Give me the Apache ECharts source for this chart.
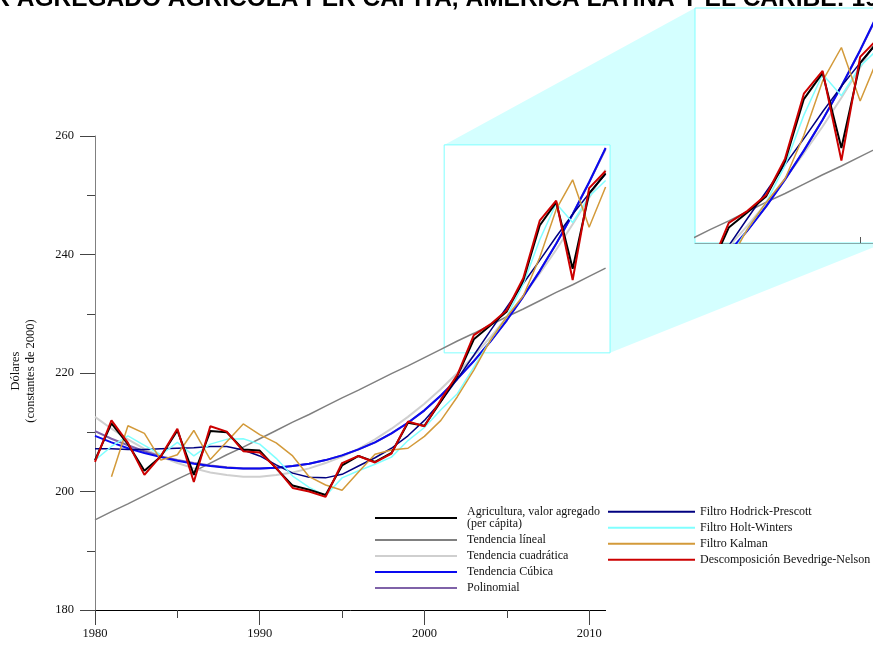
<!DOCTYPE html>
<html>
<head>
<meta charset="utf-8">
<script src="https://cdn.jsdelivr.net/npm/echarts@6/dist/echarts.min.js"></script>
<style>
  html, body { margin: 0; padding: 0; background: #fff; }
  #chart { width: 873px; height: 648px; }
</style>
</head>
<body>
<div id="chart"></div>
<script>
// ---- data -------------------------------------------------------------
const years = [1980, 1981, 1982, 1983, 1984, 1985, 1986, 1987, 1988, 1989,
               1990, 1991, 1992, 1993, 1994, 1995, 1996, 1997, 1998, 1999,
               2000, 2001, 2002, 2003, 2004, 2005, 2006, 2007, 2008, 2009,
               2010, 2011];

const agricultura = [205.3, 211.5, 208.0, 203.5, 205.9, 210.3, 202.8, 210.2, 210.0, 207.1,
                     206.9, 203.9, 201.0, 200.3, 199.4, 204.4, 206.0, 205.0, 206.5, 211.6,
                     211.1, 215.2, 219.5, 225.7, 228.0, 230.4, 235.6, 244.9, 248.8, 237.6,
                     250.3, 253.7];

const tendenciaLineal = [195.2, 196.6, 197.9, 199.3, 200.7, 202.1, 203.4, 204.8, 206.2, 207.5,
                         208.9, 210.3, 211.7, 213.0, 214.4, 215.8, 217.1, 218.5, 219.9, 221.2,
                         222.6, 224.0, 225.4, 226.7, 228.1, 229.5, 230.8, 232.2, 233.6, 234.9,
                         236.3, 237.7];

const tendenciaCuadratica = [212.6, 210.6, 208.8, 207.2, 205.9, 204.8, 203.9, 203.2, 202.8, 202.5,
                             202.5, 202.8, 203.2, 203.9, 204.8, 205.9, 207.2, 208.8, 210.6, 212.6,
                             214.8, 217.3, 220.0, 222.9, 226.0, 229.4, 233.0, 236.8, 240.8, 245.1,
                             249.6, 254.3];

const tendenciaCubica = [209.4, 208.3, 207.3, 206.5, 205.8, 205.2, 204.7, 204.3, 204.0, 203.9,
                         203.9, 204.0, 204.3, 204.7, 205.3, 206.1, 207.1, 208.3, 209.8, 211.6,
                         213.7, 216.2, 219.0, 222.0, 225.3, 228.9, 232.9, 237.2, 241.8, 246.8,
                         252.2, 258.0];

const polinomial = [210.2, 208.9, 207.8, 206.8, 205.9, 205.3, 204.8, 204.4, 204.1, 203.9,
                    203.9, 204.0, 204.3, 204.7, 205.3, 206.1, 207.1, 208.3, 209.8, 211.6,
                    213.7, 216.2, 219.0, 222.0, 225.3, 228.9, 232.9, 237.2, 241.8, 246.8,
                    252.2, 257.8];

const hodrickPrescott = [207.2, 207.2, 207.1, 207.1, 207.2, 207.3, 207.4, 207.6, 207.6, 207.0,
                         206.0, 204.5, 203.1, 202.4, 202.3, 202.9, 204.3, 205.7, 207.3, 209.4,
                         212.0, 215.2, 219.0, 223.0, 227.1, 231.1, 235.1, 239.0, 243.0, 246.8,
                         250.3, 253.6];

const holtWinters = [205.3, 207.6, 209.4, 207.8, 206.2, 208.3, 206.0, 208.0, 208.8, 208.9,
                     208.0, 205.6, 202.6, 200.7, 199.3, 202.3, 203.5, 204.6, 205.8, 208.6,
                     210.8, 213.8, 216.5, 221.0, 225.5, 229.5, 235.0, 242.5, 248.6, 245.4,
                     249.8, 252.5];

const kalman = [null, 202.5, 211.1, 209.8, 205.3, 206.2, 210.3, 205.4, 208.4, 211.4,
                209.6, 208.2, 206.0, 202.5, 201.1, 200.2, 203.3, 206.3, 207.0, 207.3,
                209.3, 212.0, 216.0, 220.5, 225.5, 229.5, 233.0, 239.5, 247.6, 252.6,
                244.6, 251.4];

const beveridgeNelson = [205.0, 212.0, 208.2, 202.8, 206.0, 210.6, 201.6, 211.0, 210.1, 206.8,
                         206.6, 204.0, 200.6, 200.0, 199.1, 204.8, 206.0, 204.9, 206.4, 211.8,
                         211.0, 215.5, 219.7, 226.4, 228.2, 230.6, 236.0, 245.7, 249.1, 235.7,
                         251.2, 254.1];

// axis ticks and labels
const yearLabels = [1980, 1990, 2000, 2010];
const yearMinorTicks = [1985, 1995, 2005];
const valueRange = [180, 260];
const valueStep = 20;

// window shown enlarged in the detail panel
const zoomYears = [2001.2, 2011.27];
const zoomValues = [223.4, 258.5];
const zoomTicks = [2010];

// ---- series definitions ------------------------------------------------
const seriesDefs = [
  { name: 'Tendencia líneal',                         values: tendenciaLineal,     color: '#808080', width: 1.5 },
  { name: 'Tendencia cuadrática',                     values: tendenciaCuadratica, color: '#cfcfcf', width: 2 },
  { name: 'Polinomial',                               values: polinomial,          color: '#7f62a8', width: 2 },
  { name: 'Tendencia Cúbica',                         values: tendenciaCubica,     color: '#0a0af0', width: 2 },
  { name: 'Filtro Hodrick-Prescott',                  values: hodrickPrescott,     color: '#000080', width: 1.5 },
  { name: 'Filtro Holt-Winters',                      values: holtWinters,         color: '#80ffff', width: 1.5 },
  { name: 'Filtro Kalman',                            values: kalman,              color: '#d39a3a', width: 1.5 },
  { name: 'Agricultura, valor agregado\n(per cápita)', values: agricultura,         color: '#000000', width: 2 },
  { name: 'Descomposición Bevedrige-Nelson',          values: beveridgeNelson,     color: '#cc0000', width: 2 }
];

const legendLeft = [
  'Agricultura, valor agregado\n(per cápita)',
  'Tendencia líneal',
  'Tendencia cuadrática',
  'Tendencia Cúbica',
  'Polinomial'
];
const legendRight = [
  'Filtro Hodrick-Prescott',
  'Filtro Holt-Winters',
  'Filtro Kalman',
  'Descomposición Bevedrige-Nelson'
];

function makeSeries(def, xIdx, yIdx) {
  return {
    type: 'line',
    name: def.name,
    xAxisIndex: xIdx,
    yAxisIndex: yIdx,
    data: years.map((y, i) => [y, def.values[i] == null ? '-' : def.values[i]]),
    showSymbol: false,
    symbol: 'none',
    clip: true,
    silent: true,
    color: def.color,
    lineStyle: { color: def.color, width: def.width },
    emphasis: { disabled: true }
  };
}

const serif = 'Liberation Serif, Times New Roman, serif';

const series = [];
seriesDefs.forEach(d => series.push(makeSeries(d, 0, 0)));
seriesDefs.forEach(d => series.push(makeSeries(d, 2, 1)));

const chart = echarts.init(document.getElementById('chart'), null, { renderer: 'canvas' });

chart.setOption({
  animation: false,
  backgroundColor: '#ffffff',
  title: {
    text: 'VALOR AGREGADO AGRÍCOLA PER CÁPITA, AMÉRICA LATINA Y EL CARIBE: 1980-2011',
    left: -74,
    top: -13,
    padding: 0,
    z: 10,
    textStyle: {
      fontFamily: 'Liberation Sans, Arial, sans-serif',
      fontWeight: 'bold',
      fontSize: 24.5,
      color: '#000'
    }
  },
  grid: [
    { left: 95, top: 136, width: 510.6, height: 474, outerBoundsMode: 'none', containLabel: false },
    { left: 695, top: 8, width: 189, height: 235, outerBoundsMode: 'none', containLabel: false }
  ],
  xAxis: [
    {
      type: 'value', gridIndex: 0, min: 1980, max: 2011, position: 'bottom',
      axisLine: { show: true, onZero: false, lineStyle: { color: '#000', width: 1 } },
      axisTick: { show: true, customValues: yearLabels, length: 15, lineStyle: { color: '#444' } },
      axisLabel: { show: true, customValues: yearLabels, margin: 17,
                   formatter: v => String(v),
                   fontFamily: serif, fontSize: 12.5, color: '#111' },
      splitLine: { show: false }
    },
    {
      type: 'value', gridIndex: 0, min: 1980, max: 2011, position: 'bottom', offset: 0,
      axisLine: { show: false },
      axisTick: { show: true, customValues: yearMinorTicks, length: 8, lineStyle: { color: '#444' } },
      axisLabel: { show: false },
      splitLine: { show: false }
    },
    {
      type: 'value', gridIndex: 1, min: zoomYears[0], max: zoomYears[1], position: 'bottom',
      axisLine: { show: true, onZero: false, lineStyle: { color: '#86aaaa', width: 1 } },
      axisTick: { show: true, inside: true, customValues: zoomTicks, length: 6, lineStyle: { color: '#555' } },
      axisLabel: { show: false },
      splitLine: { show: false }
    }
  ],
  yAxis: [
    {
      type: 'value', gridIndex: 0, min: valueRange[0], max: valueRange[1], interval: valueStep,
      axisLine: { show: true, onZero: false, lineStyle: { color: '#808080', width: 1 } },
      axisTick: { show: true, length: 15, lineStyle: { color: '#444' } },
      minorTick: { show: true, splitNumber: 2, length: 8, lineStyle: { color: '#444' } },
      axisLabel: { margin: 21, fontFamily: serif, fontSize: 12.5, color: '#111' },
      splitLine: { show: false },
      minorSplitLine: { show: false }
    },
    {
      type: 'value', gridIndex: 1, min: zoomValues[0], max: zoomValues[1],
      show: false, splitLine: { show: false }
    }
  ],
  legend: [
    {
      orient: 'vertical', left: 375, top: 506, padding: 0,
      itemWidth: 82, itemHeight: 2, itemGap: 4, icon: 'rect',
      selectedMode: false, data: legendLeft,
      textStyle: { fontFamily: serif, fontSize: 12, lineHeight: 12, color: '#111', padding: [0, 0, 0, 5] }
    },
    {
      orient: 'vertical', left: 608, top: 505.7, padding: 0,
      itemWidth: 87, itemHeight: 2, itemGap: 4, icon: 'rect',
      selectedMode: false, data: legendRight,
      textStyle: { fontFamily: serif, fontSize: 12, lineHeight: 12, color: '#111' }
    }
  ],
  series: series
});

// ---- zoom window, connector and detail panel frame ------------------------
const mainTL = chart.convertToPixel({ gridIndex: 0 }, [zoomYears[0], zoomValues[1]]);
const mainBR = chart.convertToPixel({ gridIndex: 0 }, [zoomYears[1], zoomValues[0]]);
const insTL = chart.convertToPixel({ gridIndex: 1 }, [zoomYears[0], zoomValues[1]]);
const insBR = chart.convertToPixel({ gridIndex: 1 }, [zoomYears[1], zoomValues[0]]);

chart.setOption({
  graphic: [
    {
      type: 'polygon', z: -3, silent: true,
      shape: { points: [
        [mainTL[0], mainTL[1]], [insTL[0], insTL[1]], [insBR[0], insTL[1]],
        [insBR[0], insBR[1]], [mainBR[0], mainBR[1]], [mainBR[0], mainTL[1]]
      ] },
      style: { fill: '#d4ffff', stroke: null }
    },
    {
      type: 'rect', z: -2, silent: true,
      shape: { x: insTL[0], y: insTL[1], width: insBR[0] - insTL[0], height: insBR[1] - insTL[1] },
      style: { fill: '#ffffff', stroke: '#80ffff', lineWidth: 1 }
    },
    {
      type: 'rect', z: -2, silent: true,
      shape: { x: mainTL[0], y: mainTL[1], width: mainBR[0] - mainTL[0], height: mainBR[1] - mainTL[1] },
      style: { fill: null, stroke: '#80ffff', lineWidth: 1 }
    },
    {
      type: 'text', silent: true, x: 23, y: 371, rotation: Math.PI / 2,
      style: {
        text: 'Dólares\n(constantes de 2000)',
        x: 0, y: 0, textAlign: 'center', textVerticalAlign: 'middle',
        font: '12.5px ' + serif, lineHeight: 15, fill: '#111'
      }
    }
  ]
});
</script>
</body>
</html>
